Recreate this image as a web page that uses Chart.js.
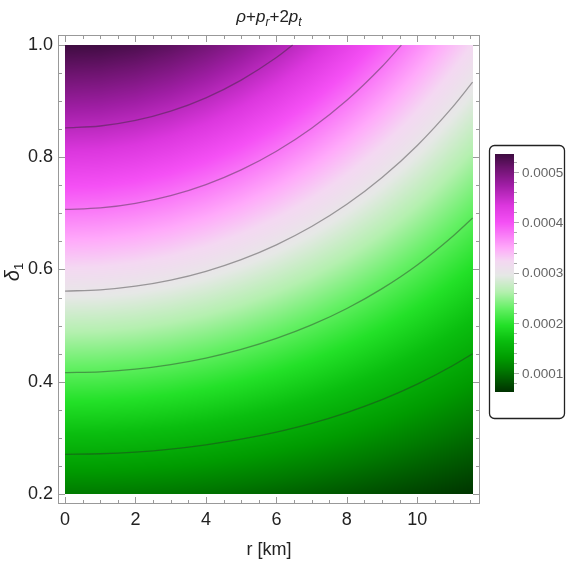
<!DOCTYPE html>
<html>
<head>
<meta charset="utf-8">
<script src="https://cdn.jsdelivr.net/npm/chart.js@4.4.0/dist/chart.umd.min.js"></script>
<style>
    html, body { margin: 0; padding: 0; background: #fff; }
    #wrap { width: 567px; height: 567px; }
</style>
</head>
<body>
<div id="wrap"><canvas id="densityChart" width="567" height="567"></canvas></div>
<script>
// sample grid of the field (r in km, delta_1)
const rValues = [0, 1, 2, 3, 4, 5, 6, 7, 8, 9, 10, 11, 11.57];
const deltaValues = [0.2, 0.3, 0.4, 0.5, 0.6, 0.7, 0.8, 0.9, 1.0];

const valueUnit = 1e-4;
const fieldRows = [
    [1.072, 1.068, 1.056, 1.036, 1.009, 0.975, 0.935, 0.890, 0.841, 0.788, 0.733, 0.677, 0.645],
    [1.608, 1.602, 1.584, 1.554, 1.513, 1.462, 1.402, 1.335, 1.261, 1.182, 1.100, 1.015, 0.967],
    [2.144, 2.136, 2.112, 2.072, 2.018, 1.950, 1.870, 1.780, 1.681, 1.576, 1.466, 1.354, 1.289],
    [2.680, 2.670, 2.640, 2.590, 2.522, 2.437, 2.337, 2.225, 2.102, 1.970, 1.833, 1.692, 1.612],
    [3.216, 3.204, 3.167, 3.108, 3.026, 2.924, 2.804, 2.669, 2.522, 2.364, 2.200, 2.030, 1.934],
    [3.752, 3.738, 3.695, 3.626, 3.531, 3.412, 3.272, 3.114, 2.942, 2.758, 2.566, 2.369, 2.256],
    [4.288, 4.272, 4.223, 4.144, 4.035, 3.899, 3.739, 3.559, 3.362, 3.152, 2.933, 2.707, 2.578],
    [4.824, 4.806, 4.751, 4.662, 4.540, 4.387, 4.207, 4.004, 3.783, 3.546, 3.299, 3.046, 2.901],
    [5.360, 5.340, 5.279, 5.180, 5.044, 4.874, 4.674, 4.449, 4.203, 3.940, 3.666, 3.384, 3.223]
];

// contour levels (units of 1e-4)
const contourLevels = [1.45, 2.23, 3.01, 3.79, 4.57];

// tick labels
const xTickValues = [0, 2, 4, 6, 8, 10];
const yTickValues = [0.2, 0.4, 0.6, 0.8, 1.0];
const colorbarTicks = [0.0001, 0.0002, 0.0003, 0.0004, 0.0005];
const colorbarMin = 0.0000628;
const colorbarMax = 0.000536;

// green -> white -> pink -> purple
const colorStops = [
    [0.00, [0, 50, 0]],
    [0.09, [0, 120, 0]],
    [0.14, [0, 155, 0]],
    [0.215, [10, 190, 15]],
    [0.28, [35, 225, 40]],
    [0.35, [100, 240, 100]],
    [0.42, [180, 240, 175]],
    [0.49, [230, 232, 230]],
    [0.55, [244, 216, 242]],
    [0.605, [255, 170, 250]],
    [0.713, [245, 80, 245]],
    [0.784, [220, 55, 222]],
    [0.87, [160, 30, 165]],
    [0.94, [110, 20, 112]],
    [1.00, [62, 12, 64]]
];

const FONT = "'Liberation Sans', Arial, sans-serif";

function colorFor(v) {
    let t = (v - colorbarMin) / (colorbarMax - colorbarMin);
    t = Math.max(0, Math.min(1, t));
    for (let i = 1; i < colorStops.length; i++) {
        if (t <= colorStops[i][0]) {
            const [t0, c0] = colorStops[i - 1];
            const [t1, c1] = colorStops[i];
            const f = (t - t0) / (t1 - t0);
            return [0, 1, 2].map(k => c0[k] + (c1[k] - c0[k]) * f);
        }
    }
    return colorStops[colorStops.length - 1][1];
}

// bilinear lookup in the sample grid
function fieldAt(r, d) {
    let j = 0;
    while (j < rValues.length - 2 && r > rValues[j + 1]) j++;
    let i = 0;
    while (i < deltaValues.length - 2 && d > deltaValues[i + 1]) i++;
    const fr = (r - rValues[j]) / (rValues[j + 1] - rValues[j]);
    const fd = (d - deltaValues[i]) / (deltaValues[i + 1] - deltaValues[i]);
    const a = fieldRows[i][j], b = fieldRows[i][j + 1];
    const c = fieldRows[i + 1][j], e = fieldRows[i + 1][j + 1];
    return ((a * (1 - fr) + b * fr) * (1 - fd) + (c * (1 - fr) + e * fr) * fd) * valueUnit;
}

// walk the columns and find where each level is crossed
function traceContour(level) {
    const pts = [];
    for (let j = 0; j < rValues.length; j++) {
        let found = null;
        for (let i = 0; i < deltaValues.length - 1; i++) {
            const a = fieldRows[i][j], b = fieldRows[i + 1][j];
            if ((a - level) * (b - level) <= 0 && a !== b) {
                found = deltaValues[i] + (level - a) / (b - a) * (deltaValues[i + 1] - deltaValues[i]);
                break;
            }
        }
        if (found === null) {
            // leaves through the top edge
            const top = fieldRows[fieldRows.length - 1];
            if (j > 0) {
                const a = top[j - 1], b = top[j];
                const rr = rValues[j - 1] + (level - a) / (b - a) * (rValues[j] - rValues[j - 1]);
                pts.push({ x: rr, y: deltaValues[deltaValues.length - 1] });
            }
            break;
        }
        pts.push({ x: rValues[j], y: found });
    }
    return pts;
}

const densityPlugin = {
    id: 'density',
    beforeDatasetsDraw(chart) {
        const { ctx, scales: { x, y } } = chart;
        const px0 = Math.round(x.getPixelForValue(rValues[0]));
        const px1 = Math.round(x.getPixelForValue(rValues[rValues.length - 1]));
        const py0 = Math.round(y.getPixelForValue(deltaValues[deltaValues.length - 1]));
        const py1 = Math.round(y.getPixelForValue(deltaValues[0]));
        const w = px1 - px0, h = py1 - py0;
        const img = ctx.createImageData(w, h);
        for (let py = 0; py < h; py++) {
            const d = y.getValueForPixel(py0 + py + 0.5);
            for (let px = 0; px < w; px++) {
                const r = x.getValueForPixel(px0 + px + 0.5);
                const c = colorFor(fieldAt(r, d));
                const k = (py * w + px) * 4;
                img.data[k] = c[0];
                img.data[k + 1] = c[1];
                img.data[k + 2] = c[2];
                img.data[k + 3] = 255;
            }
        }
        ctx.putImageData(img, px0, py0);
    }
};

const framePlugin = {
    id: 'frame',
    afterDraw(chart) {
        const { ctx, chartArea: a, scales: { x, y } } = chart;
        ctx.save();
        ctx.strokeStyle = '#999';
        ctx.lineWidth = 1;
        ctx.strokeRect(a.left + 0.5, a.top + 0.5, a.right - a.left - 1, a.bottom - a.top - 1);
        ctx.beginPath();
        // x ticks, every 0.5, major every 2
        for (let i = 0; i <= 23; i++) {
            const v = i * 0.5;
            const len = (v % 2 === 0) ? 7 : 4;
            const p = Math.round(x.getPixelForValue(v)) + 0.5;
            ctx.moveTo(p, a.bottom); ctx.lineTo(p, a.bottom - len);
            ctx.moveTo(p, a.top); ctx.lineTo(p, a.top + len);
        }
        // y ticks, every 0.05, major every 0.2
        for (let i = 4; i <= 20; i++) {
            const v = i * 0.05;
            const len = (i % 4 === 0) ? 7 : 4;
            const p = Math.round(y.getPixelForValue(v)) + 0.5;
            ctx.moveTo(a.left, p); ctx.lineTo(a.left + len, p);
            ctx.moveTo(a.right, p); ctx.lineTo(a.right - len, p);
        }
        ctx.stroke();

        // title  rho + p_r + 2 p_t
        const parts = [
            ['\u03C1', 'italic 17px', 0], ['+', '17px', 0], ['p', 'italic 17px', 0],
            ['r', 'italic 12px', 4], ['+', '17px', 0], ['2', '17px', 0],
            ['p', 'italic 17px', 0], ['t', 'italic 12px', 4]
        ];
        ctx.fillStyle = '#222';
        ctx.textBaseline = 'alphabetic';
        ctx.textAlign = 'left';
        let total = 0;
        parts.forEach(p => { ctx.font = p[1] + ' ' + FONT; total += ctx.measureText(p[0]).width; });
        let cx = (a.left + a.right) / 2 - total / 2;
        parts.forEach(p => {
            ctx.font = p[1] + ' ' + FONT;
            ctx.fillText(p[0], cx, 22 + p[2]);
            cx += ctx.measureText(p[0]).width;
        });

        // x axis title
        ctx.font = '18px ' + FONT;
        ctx.textAlign = 'center';
        ctx.fillText('r [km]', (a.left + a.right) / 2, 555);

        // y axis title  delta_1
        ctx.save();
        ctx.translate(19, 272);
        ctx.rotate(-Math.PI / 2);
        ctx.font = 'italic 20px ' + FONT;
        const dw = ctx.measureText('\u03B4').width;
        ctx.font = '13px ' + FONT;
        const sw = ctx.measureText('1').width;
        ctx.textAlign = 'left';
        ctx.font = 'italic 20px ' + FONT;
        ctx.fillText('\u03B4', -(dw + sw) / 2, 0);
        ctx.font = '13px ' + FONT;
        ctx.fillText('1', -(dw + sw) / 2 + dw, 4);
        ctx.restore();

        // colour bar
        const bx = 495, bw = 19, bTop = 154, bBot = 392;
        const vToY = v => bBot - (v - colorbarMin) / (colorbarMax - colorbarMin) * (bBot - bTop);
        for (let py = bTop; py < bBot; py++) {
            const v = colorbarMin + (bBot - py - 0.5) / (bBot - bTop) * (colorbarMax - colorbarMin);
            const c = colorFor(v);
            ctx.fillStyle = `rgb(${c[0]|0},${c[1]|0},${c[2]|0})`;
            ctx.fillRect(bx, py, bw, 1);
        }
        ctx.strokeStyle = '#aaa';
        ctx.beginPath();
        for (let k = 4; k <= 26; k++) {
            const v = k * 0.00002;
            if (v < colorbarMin || v > colorbarMax) continue;
            const p = Math.round(vToY(v)) + 0.5;
            const major = (k % 5 === 0);
            ctx.moveTo(bx + bw, p); ctx.lineTo(bx + bw + (major ? 5 : 3), p);
        }
        ctx.stroke();
        ctx.fillStyle = '#666';
        ctx.font = '13.5px ' + FONT;
        ctx.textAlign = 'left';
        ctx.textBaseline = 'middle';
        colorbarTicks.forEach(v => ctx.fillText(v.toFixed(4), 522, vToY(v) + 1));

        // legend box
        ctx.strokeStyle = '#222';
        ctx.lineWidth = 1.3;
        ctx.beginPath();
        ctx.roundRect(489.5, 145.5, 75, 273, 5);
        ctx.stroke();
        ctx.restore();
    }
};

new Chart("densityChart", {
    type: "scatter",
    data: {
        datasets: contourLevels.map(level => ({
            data: traceContour(level),
            showLine: true,
            borderColor: "rgba(40,40,40,0.42)",
            borderWidth: 1.3,
            pointRadius: 0,
            cubicInterpolationMode: 'monotone'
        }))
    },
    options: {
        responsive: false,
        animation: false,
        layout: { padding: { top: 35, right: 87, left: 0, bottom: 0 } },
        plugins: {
            legend: { display: false },
            tooltip: { enabled: false }
        },
        scales: {
            x: {
                type: 'linear',
                min: -0.2,
                max: 11.78,
                afterBuildTicks: s => { s.ticks = xTickValues.map(v => ({ value: v })); },
                afterFit: s => { s.height = 63; },
                grid: { display: false, drawTicks: false },
                border: { display: false },
                ticks: {
                    font: { family: FONT, size: 18 },
                    color: '#222',
                    padding: 5,
                    maxRotation: 0,
                    autoSkip: false,
                    callback: v => String(v)
                }
            },
            y: {
                type: 'linear',
                min: 0.182,
                max: 1.018,
                afterBuildTicks: s => { s.ticks = yTickValues.map(v => ({ value: v })); },
                afterFit: s => { s.width = 58; },
                grid: { display: false, drawTicks: false },
                border: { display: false },
                ticks: {
                    font: { family: FONT, size: 18 },
                    color: '#222',
                    padding: 5,
                    autoSkip: false,
                    callback: v => v.toFixed(1)
                }
            }
        }
    },
    plugins: [densityPlugin, framePlugin]
});
</script>
</body>
</html>
